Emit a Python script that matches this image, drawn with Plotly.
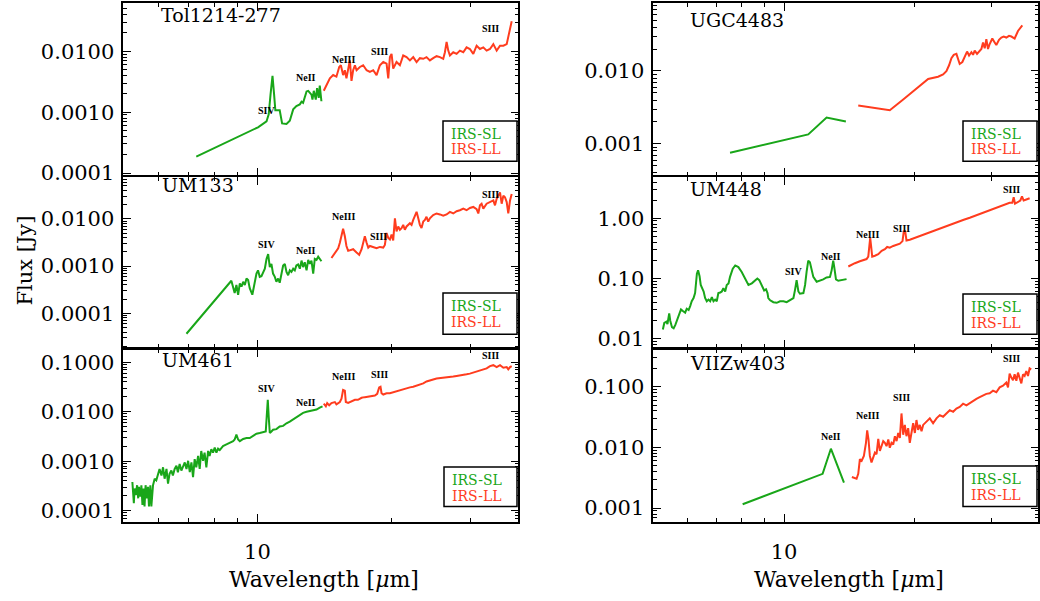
import numpy as np
import plotly.graph_objects as go

W, H = 1040, 601
GREEN = "#19a619"
RED = "#ff3c1e"
FONT = "DejaVu Serif"

# ---------------- data (wavelength in micron, flux in Jy) ----------------
tol_sl_wl = [7.29, 10.03, 10.48, 10.60, 10.70, 10.81, 10.90, 10.97, 11.22, 11.36, 11.62, 11.82, 12.03, 12.23,
             12.45, 12.56, 12.66, 12.89, 13.00, 13.22, 13.29, 13.38, 13.52, 13.61, 13.73, 13.80, 13.92]
tol_sl_flux = [1.86e-4, 5.64e-4, 7.04e-4, 9.23e-4, 1.94e-3, 3.96e-3, 1.94e-3, 1.07e-3, 1.07e-3, 6.54e-4, 6.38e-4,
               7.21e-4, 1.11e-3, 1.26e-3, 1.34e-3, 1.48e-3, 1.42e-3, 2.19e-3, 2.24e-3, 1.94e-3, 1.61e-3, 2.24e-3,
               1.61e-3, 2.48e-3, 1.71e-3, 2.73e-3, 1.51e-3]
tol_ll_wl = [14.09, 14.29, 14.54, 14.79, 15.04, 15.26, 15.39, 15.57, 15.71, 15.84, 15.98, 16.12, 16.26, 16.40,
             16.55, 16.69, 16.98, 17.27, 17.58, 17.88, 18.19, 18.51, 18.83, 19.16, 19.49, 19.66, 19.83, 20.00,
             20.17, 20.52, 20.88, 21.24, 21.61, 21.99, 22.37, 22.76, 23.15, 23.56, 23.96, 24.38, 24.80, 25.24,
             25.68, 26.12, 26.35, 26.58, 26.81, 27.04, 27.51, 27.99, 28.47, 28.97, 29.47, 29.98, 30.51, 31.04,
             31.58, 32.13, 32.69, 33.26, 33.84, 34.43, 35.03, 35.64, 36.26, 36.89, 37.21]
tol_ll_flux = [0.00224, 0.0028, 0.00359, 0.00406, 0.00382, 0.00552, 0.00588, 0.00406, 0.00488, 0.00359,
               0.00519, 0.00707, 0.00325, 0.00488, 0.00588, 0.00488, 0.00552, 0.00588, 0.00488, 0.00459,
               0.00488, 0.00406, 0.00588, 0.00665, 0.00625, 0.00359, 0.0080, 0.00905, 0.00519, 0.00665,
               0.00588, 0.00851, 0.0080, 0.00707, 0.0080, 0.00665, 0.0077, 0.00752, 0.0080, 0.00707,
               0.0077, 0.0083, 0.0080, 0.00752, 0.00963, 0.01428, 0.01024, 0.00851, 0.00963, 0.00905,
               0.01024, 0.00963, 0.01158, 0.01089, 0.00905, 0.01232, 0.01089, 0.01158, 0.01024, 0.01089,
               0.0131, 0.01024, 0.01232, 0.01232, 0.0131, 0.0228, 0.0311]
tol_line_lab = ["SIV", "NeII", "NeIII", "SIII", "SIII"]
tol_line_wl = [10.47, 12.82, 15.62, 18.75, 33.4]
tol_line_flux = [1.07e-3, 3.68e-3, 7.25e-3, 0.010, 0.0234]

um133_sl_wl = [6.93, 8.74, 8.89, 8.97, 9.05, 9.13, 9.21, 9.29, 9.37, 9.45, 9.53, 9.61, 9.74, 9.86, 9.95, 10.03,
               10.12, 10.21, 10.30, 10.39, 10.48, 10.57, 10.66, 10.75, 10.84, 10.94, 11.03, 11.13, 11.22, 11.32,
               11.42, 11.52, 11.62, 11.72, 11.82, 11.92, 12.03, 12.13, 12.23, 12.34, 12.45, 12.56, 12.66, 12.77,
               12.89, 13.00, 13.11, 13.22, 13.34, 13.45, 13.57, 13.69, 13.80, 13.92]
um133_sl_flux = [3.68e-5, 4.89e-4, 2.68e-4, 3.98e-4, 2.47e-4, 4.31e-4, 3.68e-4, 4.66e-4, 3.98e-4, 5.46e-4,
                 5.05e-4, 3.40e-4, 2.47e-4, 4.31e-4, 6.94e-4, 8.13e-4, 5.92e-4, 6.11e-4, 7.51e-4, 8.80e-4,
                 1.417e-3, 1.797e-3, 9.53e-4, 1.116e-3, 6.94e-4, 5.92e-4, 4.66e-4, 5.46e-4, 4.45e-4, 6.94e-4,
                 1.031e-3, 1.116e-3, 7.51e-4, 6.40e-4, 8.13e-4, 7.51e-4, 8.80e-4, 8.13e-4, 1.031e-3, 1.081e-3,
                 8.80e-4, 1.309e-3, 9.53e-4, 1.209e-3, 8.13e-4, 1.351e-3, 1.116e-3, 1.309e-3, 6.94e-4, 1.417e-3,
                 1.351e-3, 1.584e-3, 1.417e-3, 1.268e-3]
um133_ll_wl = [14.66, 14.92, 15.18, 15.31, 15.44, 15.57, 15.71, 15.84, 15.98, 16.12, 16.40, 16.69, 16.92, 17.13,
               17.42, 17.58, 17.73, 17.88, 18.19, 18.51, 18.83, 19.16, 19.32, 19.49, 19.66, 19.83, 20.00, 20.17,
               20.35, 20.52, 20.70, 20.88, 21.06, 21.24, 21.42, 21.61, 21.99, 22.18, 22.37, 22.57, 22.76, 22.96,
               23.15, 23.35, 23.56, 23.76, 23.96, 24.17, 24.38, 24.80, 25.24, 25.68, 26.12, 26.58, 27.04, 27.51,
               27.99, 28.47, 28.97, 29.47, 29.98, 30.51, 31.04, 31.31, 31.58, 31.85, 32.13, 32.69, 33.26, 33.84,
               34.13, 34.43, 35.03, 35.33, 35.64, 35.94, 36.26, 36.56, 36.89, 37.21]
um133_ll_flux = [1.486e-3, 1.946e-3, 2.392e-3, 3.133e-3, 4.305e-3, 6.20e-3, 4.305e-3, 2.674e-3, 2.107e-3,
                 2.175e-3, 2.281e-3, 1.946e-3, 1.741e-3, 2.281e-3, 4.305e-3, 3.133e-3, 2.47e-3, 2.674e-3,
                 2.55e-3, 2.392e-3, 2.55e-3, 2.47e-3, 2.804e-3, 5.045e-3, 3.975e-3, 3.673e-3, 4.66e-3, 3.502e-3,
                 0.0103, 5.46e-3, 6.93e-3, 5.91e-3, 6.40e-3, 7.50e-3, 5.91e-3, 6.93e-3, 8.12e-3, 7.50e-3,
                 9.52e-3, 0.01208, 0.01416, 0.0103, 7.50e-3, 6.40e-3, 8.79e-3, 9.52e-3, 0.01116, 8.79e-3,
                 0.0103, 0.01208, 0.01308, 0.01247, 0.0117, 0.01247, 0.01416, 0.01308, 0.01462, 0.01533,
                 0.0166, 0.01533, 0.01713, 0.01797, 0.01608, 0.01308, 0.01945, 0.02105, 0.0166, 0.02105,
                 0.0228, 0.02468, 0.01945, 0.02672, 0.03669, 0.02105, 0.03131, 0.02892, 0.0228, 0.01308,
                 0.02468, 0.0339]
um133_line_lab = ["SIV", "NeII", "NeIII", "SIII", "SIII"]
um133_line_wl = [10.47, 12.82, 15.62, 18.66, 33.4]
um133_line_flux = [2.90e-3, 2.18e-3, 0.01154, 4.30e-3, 0.0323]

um461_sl_wl = [5.24, 5.28, 5.30, 5.33, 5.37, 5.40, 5.42, 5.46, 5.49, 5.52, 5.55, 5.58, 5.61, 5.65, 5.68, 5.71,
               5.75, 5.78, 5.83, 5.88, 5.93, 5.98, 6.03, 6.09, 6.14, 6.19, 6.25, 6.30, 6.35, 6.41, 6.46, 6.52,
               6.58, 6.63, 6.69, 6.75, 6.81, 6.87, 6.93, 6.99, 7.05, 7.11, 7.17, 7.23, 7.29, 7.36, 7.42, 7.48,
               7.55, 7.61, 7.68, 7.75, 7.81, 7.88, 7.95, 8.02, 8.09, 8.16, 8.23, 8.37, 8.52, 8.67, 8.82, 8.89,
               8.97, 9.05, 9.13, 9.29, 9.45, 9.61, 9.78, 9.95, 10.12, 10.30, 10.44, 10.49, 10.55, 10.60, 10.66,
               10.75, 10.84, 11.03, 11.22, 11.42, 11.62, 11.82, 12.03, 12.23, 12.45, 12.66, 12.89, 13.11, 13.34,
               13.57, 13.80, 14.00]
um461_sl_flux = [3.80e-4, 1.42e-4, 2.81e-4, 2.07e-4, 3.27e-4, 1.78e-4, 3.03e-4, 1.92e-4, 3.27e-4, 1.31e-4,
                 2.81e-4, 1.22e-4, 3.27e-4, 1.78e-4, 3.03e-4, 1.22e-4, 3.27e-4, 1.22e-4, 3.27e-4, 4.43e-4,
                 4.10e-4, 5.56e-4, 6.98e-4, 5.15e-4, 7.53e-4, 4.43e-4, 6.98e-4, 3.52e-4, 5.56e-4, 6.47e-4,
                 5.15e-4, 6.98e-4, 8.13e-4, 6.00e-4, 8.77e-4, 6.47e-4, 8.13e-4, 9.46e-4, 6.98e-4, 1.02e-3,
                 6.00e-4, 9.46e-4, 4.78e-4, 1.10e-3, 7.53e-4, 1.28e-3, 6.98e-4, 1.61e-3, 1.02e-3, 1.49e-3,
                 7.53e-4, 1.61e-3, 1.28e-3, 1.74e-3, 1.49e-3, 1.88e-3, 1.49e-3, 1.79e-3, 1.68e-3, 2.02e-3,
                 2.18e-3, 2.35e-3, 2.54e-3, 2.74e-3, 3.44e-3, 2.74e-3, 2.54e-3, 2.82e-3, 2.95e-3, 2.95e-3,
                 3.28e-3, 3.60e-3, 3.71e-3, 3.83e-3, 4.00e-3, 7.93e-3, 0.01746, 7.93e-3, 3.71e-3, 4.00e-3,
                 4.32e-3, 4.45e-3, 5.02e-3, 5.18e-3, 5.85e-3, 6.31e-3, 7.02e-3, 7.93e-3, 8.95e-3, 9.51e-3,
                 9.96e-3, 0.01026, 0.01074, 0.01107, 0.01213, 0.01288]
um461_ll_wl = [14.09, 14.24, 14.34, 14.49, 14.66, 14.92, 15.04, 15.18, 15.31, 15.44, 15.57, 15.71, 15.79, 15.98,
               16.26, 16.55, 16.81, 17.13, 17.42, 17.73, 18.03, 18.35, 18.57, 18.76, 18.89, 18.99, 19.16, 19.49,
               19.83, 20.17, 20.52, 20.88, 21.24, 21.61, 21.99, 22.37, 22.76, 23.15, 23.56, 23.96, 24.38, 24.80,
               25.24, 25.68, 26.12, 26.58, 27.04, 27.51, 27.99, 28.47, 28.97, 29.47, 29.98, 30.51, 31.04, 31.58,
               32.13, 32.69, 33.26, 33.84, 34.43, 35.03, 35.64, 36.26, 36.56, 36.89, 37.21]
um461_ll_flux = [0.01455, 0.01288, 0.0150, 0.01349, 0.0150, 0.0157, 0.01412, 0.0150, 0.0157, 0.01828,
                 0.02754, 0.02673, 0.0157, 0.0150, 0.01644, 0.01746, 0.01746, 0.01913, 0.01972, 0.02032,
                 0.02032, 0.02128, 0.02296, 0.0311, 0.03206, 0.02366, 0.02228, 0.02366, 0.02366, 0.02477,
                 0.02673, 0.02754, 0.02838, 0.0302, 0.0311, 0.03206, 0.03357, 0.03622, 0.03733, 0.04087,
                 0.04217, 0.04477, 0.04688, 0.04754, 0.04909, 0.04909, 0.05058, 0.05129, 0.05297, 0.05371,
                 0.05534, 0.05715, 0.05888, 0.06166, 0.06353, 0.06652, 0.07178, 0.075, 0.0834, 0.0873,
                 0.0798, 0.0873, 0.0773, 0.0798, 0.07178, 0.0798, 0.0834]
um461_line_lab = ["SIV", "NeII", "NeIII", "SIII", "SIII"]
um461_line_wl = [10.47, 12.82, 15.62, 18.75, 33.4]
um461_line_flux = [0.0288, 0.01503, 0.0514, 0.0571, 0.1377]

ugc_sl_wl = [7.51, 11.37, 12.53, 13.88]
ugc_sl_flux = [7.57e-4, 1.349e-3, 2.303e-3, 2.035e-3]
ugc_ll_wl = [14.82, 17.52, 18.81, 20.18, 21.47, 22.63, 23.24, 23.65, 23.99, 24.29, 24.59, 24.94, 25.16, 25.38,
             25.74, 26.06, 26.39, 26.67, 27.00, 27.24, 27.48, 27.82, 28.12, 28.47, 28.72, 28.98, 29.23, 29.49,
             29.75, 30.17, 30.55, 30.82, 31.26, 31.65, 32.04, 32.50, 32.96, 33.38, 33.96, 34.57, 35.37]
ugc_ll_flux = [3.37e-3, 2.89e-3, 4.06e-3, 5.82e-3, 7.77e-3, 8.35e-3, 8.98e-3, 9.95e-3, 0.01198, 0.01502,
               0.01665, 0.01718, 0.01398, 0.01248, 0.01327, 0.01598, 0.01846, 0.01631, 0.01808, 0.01665,
               0.01904, 0.01718, 0.01846, 0.02004, 0.02464, 0.02046, 0.02731, 0.02004, 0.0234, 0.02788,
               0.02464, 0.02268, 0.02675, 0.02875, 0.02965, 0.02875, 0.03027, 0.02965, 0.02788, 0.03533,
               0.04209]
ugc_line_lab = []
ugc_line_wl = []
ugc_line_flux = []

um448_sl_wl = [5.26, 5.30, 5.36, 5.39, 5.44, 5.47, 5.52, 5.57, 5.62, 5.67, 5.75, 5.79, 5.85, 5.92, 5.97, 6.03,
               6.08, 6.13, 6.19, 6.24, 6.30, 6.34, 6.39, 6.43, 6.53, 6.58, 6.64, 6.70, 6.76, 6.82, 6.88, 6.94,
               7.00, 7.06, 7.13, 7.19, 7.25, 7.32, 7.38, 7.45, 7.51, 7.62, 7.72, 7.85, 7.99, 8.14, 8.28, 8.43,
               8.58, 8.68, 8.77, 8.89, 9.00, 9.09, 9.16, 9.20, 9.29, 9.45, 9.62, 9.79, 9.97, 10.14, 10.32,
               10.51, 10.60, 10.69, 10.79, 10.88, 11.08, 11.18, 11.27, 11.37, 11.47, 11.58, 11.68, 11.89, 12.10,
               12.31, 12.53, 12.76, 12.87, 12.98, 13.05, 13.17, 13.33, 13.57, 13.93]
um448_sl_flux = [0.0140, 0.0180, 0.0189, 0.0173, 0.0261, 0.0196, 0.0153, 0.0147, 0.0167, 0.0196,
                 0.0268, 0.0303, 0.0285, 0.0268, 0.0311, 0.0296, 0.0344, 0.0414, 0.0469, 0.0566,
                 0.1195, 0.1353, 0.1082, 0.0773, 0.0602, 0.0469, 0.0414, 0.0441, 0.0414, 0.0487,
                 0.0414, 0.0441, 0.0414, 0.0566, 0.0580, 0.0602, 0.0682, 0.0602, 0.0773, 0.0822,
                 0.1055, 0.1441, 0.1632, 0.1533, 0.1272, 0.0991, 0.0773, 0.0822, 0.0931, 0.0991,
                 0.0931, 0.0726, 0.0625, 0.0657, 0.0566, 0.0469, 0.0430, 0.0399, 0.0390, 0.0414,
                 0.0414, 0.0399, 0.0430, 0.0469, 0.0641, 0.0931, 0.0602, 0.0552, 0.0566, 0.0773,
                 0.1272, 0.1967, 0.1848, 0.1272, 0.1055, 0.0875, 0.0908, 0.0955, 0.1029, 0.1055,
                 0.1353, 0.1967, 0.1533, 0.0955, 0.0908, 0.0931, 0.0967]
um448_ll_wl = [14.06, 14.31, 14.56, 14.95, 15.22, 15.49, 15.63, 15.71, 15.79, 15.88, 15.96, 16.19, 16.48, 16.78,
               17.07, 17.28, 17.52, 17.84, 18.16, 18.48, 18.74, 18.87, 19.01, 19.14, 19.48, 19.83, 20.18, 20.54,
               20.91, 21.66, 22.44, 23.24, 24.08, 24.94, 25.84, 26.77, 27.73, 28.72, 29.75, 30.82, 31.93, 33.07,
               33.55, 33.79, 34.03, 34.57, 35.00, 35.31, 35.62, 36.13, 36.77]
um448_ll_flux = [0.157, 0.169, 0.178, 0.192, 0.202, 0.209, 0.229, 0.324, 0.471, 0.324,
                 0.229, 0.237, 0.252, 0.286, 0.304, 0.332, 0.324, 0.345, 0.358, 0.376,
                 0.415, 0.604, 0.604, 0.426, 0.437, 0.459, 0.483, 0.501, 0.520, 0.574,
                 0.635, 0.701, 0.775, 0.856, 0.934, 1.019, 1.126, 1.228, 1.357, 1.481,
                 1.636, 1.807, 1.807, 2.234, 1.741, 1.853, 1.972, 2.319, 1.972, 2.047, 2.151]
um448_line_lab = ["SIV", "NeII", "NeIII", "SIII", "SIII"]
um448_line_wl = [10.50, 12.81, 15.57, 18.65, 33.38]
um448_line_flux = [0.1318, 0.2285, 0.533, 0.683, 3.05]

vii_sl_wl = [8.03, 12.27, 12.82, 13.74]
vii_sl_flux = [1.161e-3, 3.67e-3, 9.53e-3, 2.63e-3]
vii_ll_wl = [14.33, 14.69, 14.82, 14.95, 15.09, 15.27, 15.44, 15.54, 15.65, 15.76, 15.90, 16.05, 16.19, 16.33,
             16.48, 16.62, 16.78, 16.92, 17.07, 17.22, 17.38, 17.52, 17.68, 17.84, 18.00, 18.16, 18.32, 18.48,
             18.64, 18.81, 18.97, 19.14, 19.31, 19.48, 19.65, 19.83, 20.01, 20.18, 20.36, 20.54, 20.73, 20.91,
             21.28, 21.66, 22.04, 22.44, 22.84, 23.24, 23.65, 24.08, 24.51, 24.94, 25.38, 25.84, 26.30, 26.77,
             27.24, 27.73, 28.22, 28.72, 29.23, 29.75, 30.28, 30.82, 31.37, 31.93, 32.50, 32.79, 33.07, 33.38,
             33.67, 33.96, 34.27, 34.57, 34.88, 35.19, 35.50, 35.81, 36.13, 36.45, 36.77, 37.09]
vii_ll_flux = [3.25e-3, 3.05e-3, 3.67e-3, 6.41e-3, 6.03e-3, 7.26e-3, 0.0119, 0.0191, 0.0135, 7.26e-3,
               5.66e-3, 6.82e-3, 8.21e-3, 7.72e-3, 0.0138, 8.74e-3, 0.0105, 0.0127, 0.0119, 0.0105,
               0.0135, 9.89e-3, 0.0119, 0.0112, 0.0153, 0.0127, 0.0173, 0.0143, 0.0363, 0.0162,
               0.0235, 0.0153, 0.0208, 0.0119, 0.0173, 0.0250, 0.0173, 0.0283, 0.0195, 0.0235,
               0.0184, 0.0235, 0.0266, 0.0301, 0.0250, 0.0301, 0.0341, 0.0321, 0.0363, 0.0411,
               0.0386, 0.0437, 0.0465, 0.0526, 0.0494, 0.0539, 0.0595, 0.0633, 0.0674, 0.0717,
               0.0763, 0.0782, 0.0863, 0.0811, 0.0977, 0.1039, 0.1176, 0.0977, 0.1643, 0.1416,
               0.1282, 0.1602, 0.1251, 0.1705, 0.1416, 0.1133, 0.1602, 0.1507, 0.1814, 0.1507,
               0.2003, 0.1929]
vii_line_lab = ["NeII", "NeIII", "SIII", "SIII"]
vii_line_wl = [12.81, 15.57, 18.65, 33.38]
vii_line_flux = [0.0149, 0.034, 0.0675, 0.290]

galaxy_names = ["Tol1214-277", "UM133", "UM461", "UGC4483", "UM448", "VIIZw403"]
ytick_vals = [[1e-4, 1e-3, 1e-2], [1e-4, 1e-3, 1e-2], [1e-4, 1e-3, 1e-2, 1e-1],
              [1e-3, 1e-2], [1e-2, 1e-1, 1.0], [1e-3, 1e-2, 1e-1]]
ytick_text = [["0.0001", "0.0010", "0.0100"], ["0.0001", "0.0010", "0.0100"],
              ["0.0001", "0.0010", "0.0100", "0.1000"], ["0.001", "0.010"],
              ["0.01", "0.10", "1.00"], ["0.001", "0.010", "0.100"]]
y_ranges_log = [[-4.037, -1.215], [-4.734, -1.105], [-4.222, -0.739],
                [-3.430, -1.074], [-2.159, 0.690], [-3.223, -0.384]]
x_range = [5.0, 38.5]
xtick_vals = [10]
xtick_text = ["10"]
xminor_vals = [6, 7, 8, 9, 20, 30]
legend_labels = ["IRS-SL", "IRS-LL"]

panels = [
    (tol_sl_wl, tol_sl_flux, tol_ll_wl, tol_ll_flux, tol_line_lab, tol_line_wl, tol_line_flux),
    (um133_sl_wl, um133_sl_flux, um133_ll_wl, um133_ll_flux, um133_line_lab, um133_line_wl, um133_line_flux),
    (um461_sl_wl, um461_sl_flux, um461_ll_wl, um461_ll_flux, um461_line_lab, um461_line_wl, um461_line_flux),
    (ugc_sl_wl, ugc_sl_flux, ugc_ll_wl, ugc_ll_flux, ugc_line_lab, ugc_line_wl, ugc_line_flux),
    (um448_sl_wl, um448_sl_flux, um448_ll_wl, um448_ll_flux, um448_line_lab, um448_line_wl, um448_line_flux),
    (vii_sl_wl, vii_sl_flux, vii_ll_wl, vii_ll_flux, vii_line_lab, vii_line_wl, vii_line_flux),
]

# ---------------- layout geometry (pixels) ----------------
LW = 1.5
col_px = [(123.3, 518.3), (653.3, 1038.3)]
row_px = [(3.5, 179.0 - LW / 2), (179.0 + LW / 2, 354.5 - LW / 2), (354.5 + LW / 2, 530.5)]
name_px = [(159, 15.7), (160, 188.3), (160, 366), (688.3, 20.7), (688.3, 192.3), (688.3, 369)]
legend_px = [(443, 123, 517, 164), (443, 298, 517, 340), (444, 475, 517, 515),
             (963, 123, 1037, 164), (963, 299, 1037, 340), (963, 474, 1037, 515)]


def px_x(v):
    return v / W


def px_y(v):
    return 1 - v / H


fig = go.Figure()
annotations = []
shapes = []

for i, (slw, slf, llw, llf, lab, lw, lf) in enumerate(panels):
    col, row = divmod(i, 3)
    sfx = "" if i == 0 else str(i + 1)
    xa, ya = "x" + sfx, "y" + sfx
    fig.add_trace(go.Scatter(x=slw, y=slf, mode="lines", line=dict(color=GREEN, width=2),
                             xaxis=xa, yaxis=ya, showlegend=False, hoverinfo="skip"))
    fig.add_trace(go.Scatter(x=llw, y=llf, mode="lines", line=dict(color=RED, width=2),
                             xaxis=xa, yaxis=ya, showlegend=False, hoverinfo="skip"))
    x0, x1 = col_px[col]
    y0, y1 = row_px[row]
    yr = y_ranges_log[i]
    yminor = [m * 10.0 ** d for d in range(int(np.floor(yr[0])), int(np.ceil(yr[1])) + 1)
              for m in range(2, 10) if yr[0] <= np.log10(m * 10.0 ** d) <= yr[1]]
    fig.layout["xaxis" + sfx] = dict(
        domain=[px_x(x0), px_x(x1)], anchor=ya, type="log",
        range=[np.log10(x_range[0]), np.log10(x_range[1])],
        showline=True, linecolor="black", linewidth=LW, mirror="ticks",
        ticks="inside", ticklen=8, tickwidth=1.2, tickcolor="black",
        tickmode="array", tickvals=xtick_vals, ticktext=xtick_text,
        minor=dict(tickmode="array", tickvals=xminor_vals, ticks="inside", ticklen=4,
                   tickwidth=1, tickcolor="black", showgrid=False),
        showticklabels=(row == 2), ticklabelstandoff=10,
        tickfont=dict(family=FONT, size=21, color="black"),
        showgrid=False, zeroline=False, fixedrange=True)
    fig.layout["yaxis" + sfx] = dict(
        domain=[px_y(y1), px_y(y0)], anchor=xa, type="log", range=yr,
        showline=True, linecolor="black", linewidth=LW, mirror="ticks",
        ticks="inside", ticklen=8, tickwidth=1.2, tickcolor="black",
        tickmode="array", tickvals=ytick_vals[i], ticktext=ytick_text[i],
        minor=dict(tickmode="array", tickvals=yminor, ticks="inside", ticklen=4,
                   tickwidth=1, tickcolor="black", showgrid=False),
        ticklabelstandoff=3,
        tickfont=dict(family=FONT, size=21, color="black"),
        showgrid=False, zeroline=False, fixedrange=True)

    # emission line labels
    for t, w, f in zip(lab, lw, lf):
        annotations.append(dict(x=np.log10(w), y=np.log10(f), xref=xa, yref=ya, text=t,
                                showarrow=False, xanchor="center", yanchor="middle",
                                font=dict(family="Liberation Serif", size=10,
                                          color="black", weight="bold")))
    # galaxy name
    nx, ny = name_px[i]
    annotations.append(dict(x=px_x(nx), y=px_y(ny), xref="paper", yref="paper", text=galaxy_names[i],
                            showarrow=False, xanchor="left", yanchor="middle",
                            font=dict(family=FONT, size=19, color="black")))
    # legend box
    lx0, ly0, lx1, ly1 = legend_px[i]
    shapes.append(dict(type="rect", xref="paper", yref="paper", x0=px_x(lx0), x1=px_x(lx1),
                       y0=px_y(ly1), y1=px_y(ly0), line=dict(color="black", width=1.5),
                       fillcolor="white", layer="above"))
    for k, (txt, colr) in enumerate(zip(legend_labels, [GREEN, RED])):
        annotations.append(dict(x=px_x(lx0 + 6), y=px_y(ly0 + 13 + 16 * k), xref="paper", yref="paper",
                                text=txt, showarrow=False, xanchor="left", yanchor="middle",
                                font=dict(family=FONT, size=14, color=colr)))

# axis titles
annotations.append(dict(x=px_x(25), y=px_y(265), xref="paper", yref="paper", text="Flux [Jy]",
                        textangle=-90, showarrow=False, xanchor="center", yanchor="middle",
                        font=dict(family=FONT, size=21, color="black")))
for cx in (324, 849):
    annotations.append(dict(x=px_x(cx), y=px_y(589), xref="paper", yref="paper",
                            text="Wavelength [<i>μ</i>m]", showarrow=False,
                            xanchor="center", yanchor="middle",
                            font=dict(family=FONT, size=22, color="black")))

fig.update_layout(width=W, height=H, margin=dict(l=0, r=0, t=0, b=0),
                  paper_bgcolor="white", plot_bgcolor="white",
                  annotations=annotations, shapes=shapes, showlegend=False)

fig.write_html("out.html")
